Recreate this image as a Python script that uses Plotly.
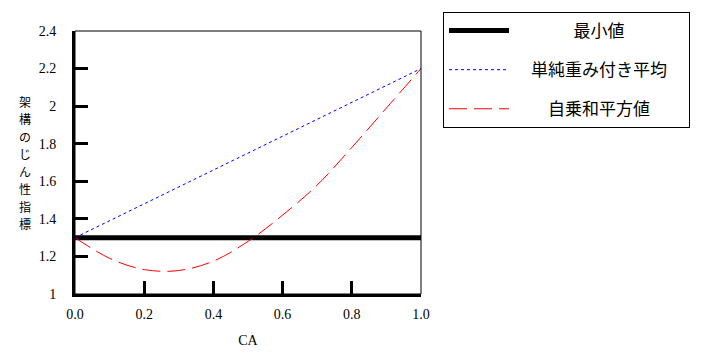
import plotly.graph_objects as go

ca = [0.0, 0.1, 0.2, 0.3, 0.4, 0.5, 0.6, 0.7, 0.8, 0.9, 1.0]
min_val = [1.3, 1.3, 1.3, 1.3, 1.3, 1.3, 1.3, 1.3, 1.3, 1.3, 1.3]
simple_avg = [1.3, 1.39, 1.48, 1.57, 1.66, 1.75, 1.84, 1.93, 2.02, 2.11, 2.2]
rss_val = [1.3, 1.19, 1.13, 1.125, 1.175, 1.28, 1.42, 1.58, 1.78, 1.99, 2.2]

names = ["最小値", "単純重み付き平均", "自乗和平方値"]
x_ticks = [0.0, 0.2, 0.4, 0.6, 0.8, 1.0]
y_ticks = [1, 1.2, 1.4, 1.6, 1.8, 2, 2.2, 2.4]
y_title = "架構のじん性指標"

jp = "Noto Sans CJK JP"
serif = "Liberation Serif"

IS = "\u3000"   # ideographic space, used to centre legend labels
EN = "\u2002"   # en space
legend_names = [
    IS * 3 + EN + names[0],
    IS + names[1] + IS,
    IS * 2 + names[2],
]

fig = go.Figure()
fig.add_trace(go.Scatter(x=ca, y=min_val, mode="lines", name=legend_names[0], legendgroup="a",
                         line=dict(color="black", width=5)))
fig.add_trace(go.Scatter(x=ca, y=simple_avg, mode="lines", name=legend_names[1], legendgroup="b",
                         line=dict(color="blue", width=1, dash="dot")))
fig.add_trace(go.Scatter(x=ca, y=rss_val, mode="lines", name=legend_names[2], legendgroup="c",
                         line=dict(color="red", width=1, dash="18px,7px", shape="spline")))

annotations = []
n = len(y_title)
for i, ch in enumerate(y_title):
    annotations.append(dict(text=ch, xref="paper", yref="paper", x=-0.145, y=0.5,
                            yshift=((n - 1) / 2 - i) * 17.5, xanchor="center", yanchor="middle",
                            showarrow=False, borderpad=0,
                            font=dict(family=jp, size=12, color="black")))

fig.update_layout(
    width=703, height=358,
    margin=dict(l=75, r=282, t=31, b=64, autoexpand=False),
    plot_bgcolor="white", paper_bgcolor="white",
    legend=dict(x=(443 - 75) / 346, y=(294 - 12) / 263, xanchor="left", yanchor="top",
                bordercolor="black", borderwidth=1, bgcolor="white",
                font=dict(family=jp, size=17, color="black"),
                tracegroupgap=14, itemwidth=60),
    xaxis=dict(range=[0, 1], tickvals=x_ticks, tickformat=".1f", automargin=False,
               ticks="inside", ticklen=13, tickwidth=3, tickcolor="black",
               showline=True, linewidth=3, linecolor="black", showgrid=False,
               zeroline=False, ticklabelstandoff=5,
               tickfont=dict(family=serif, size=14, color="black"),
               title=dict(text="CA", font=dict(family=serif, size=14, color="black"), standoff=15)),
    yaxis=dict(range=[1, 2.4], tickvals=y_ticks, automargin=False,
               ticks="inside", ticklen=13, tickwidth=3, tickcolor="black",
               showline=True, linewidth=3, linecolor="black", showgrid=False,
               zeroline=False, ticklabelstandoff=13,
               tickfont=dict(family=serif, size=14, color="black")),
    shapes=[dict(type="rect", xref="paper", yref="paper", x0=0, x1=1, y0=0, y1=1,
                 line=dict(color="black", width=1), layer="above")],
    annotations=annotations,
)

fig.write_html("out.html", config={"displayModeBar": False},
               post_script="document.body.style.margin='0';document.body.style.overflow='hidden';")
